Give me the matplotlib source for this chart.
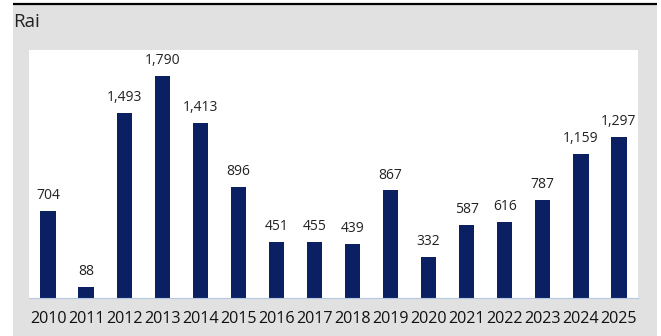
import matplotlib
matplotlib.use("Agg")
import matplotlib.pyplot as plt
from matplotlib.patches import Rectangle
from matplotlib.lines import Line2D

years = ["2010", "2011", "2012", "2013", "2014", "2015", "2016", "2017",
         "2018", "2019", "2020", "2021", "2022", "2023", "2024", "2025"]
rai = [704, 88, 1493, 1790, 1413, 896, 451, 455, 439, 867, 332, 587, 616, 787, 1159, 1297]
unit_label = "Rai"

W, H = 661, 336
plt.rcParams["font.family"] = ["Open Sans", "DejaVu Sans"]

fig = plt.figure(figsize=(W / 100, H / 100), dpi=100)
fig.patch.set_facecolor("white")

# grey panel with a black rule on top
fig.add_artist(Rectangle((13 / W, 0), 644 / W, (H - 5) / H, transform=fig.transFigure,
                         facecolor="#e1e1e1", edgecolor="none", zorder=0))
fig.add_artist(Line2D([13 / W, 657 / W], [1 - 4 / H, 1 - 4 / H], transform=fig.transFigure,
                      color="black", lw=1.6, solid_capstyle="butt"))
fig.text(13 / W, 1 - 27 / H, unit_label, fontsize=13.5, color="#222222", va="baseline", ha="left")

ax = fig.add_axes([29 / W, (H - 298) / H, 609 / W, 248 / H])
ax.set_facecolor("white")
x = range(len(years))
bars = ax.bar(x, rai, width=0.4, color="#0b1f63", zorder=2)
for xi, v in zip(x, rai):
    ax.annotate(f"{v:,}", (xi, v), xytext=(0, 8.6), textcoords="offset points",
                ha="center", va="baseline", fontsize=10, color="#222222")

ax.set_xlim(-0.5, len(years) - 0.5)
ax.set_ylim(0, 2000)
ax.set_yticks([])
ax.set_xticks(list(x))
ax.set_xticklabels(years, fontsize=11.6, color="#111111")
ax.tick_params(axis="x", length=0, pad=9.5)
for s in ["top", "left", "right"]:
    ax.spines[s].set_visible(False)
ax.spines["bottom"].set_color("#b4c8e4")
ax.spines["bottom"].set_linewidth(0.8)

fig.savefig("out.png", dpi=100)
